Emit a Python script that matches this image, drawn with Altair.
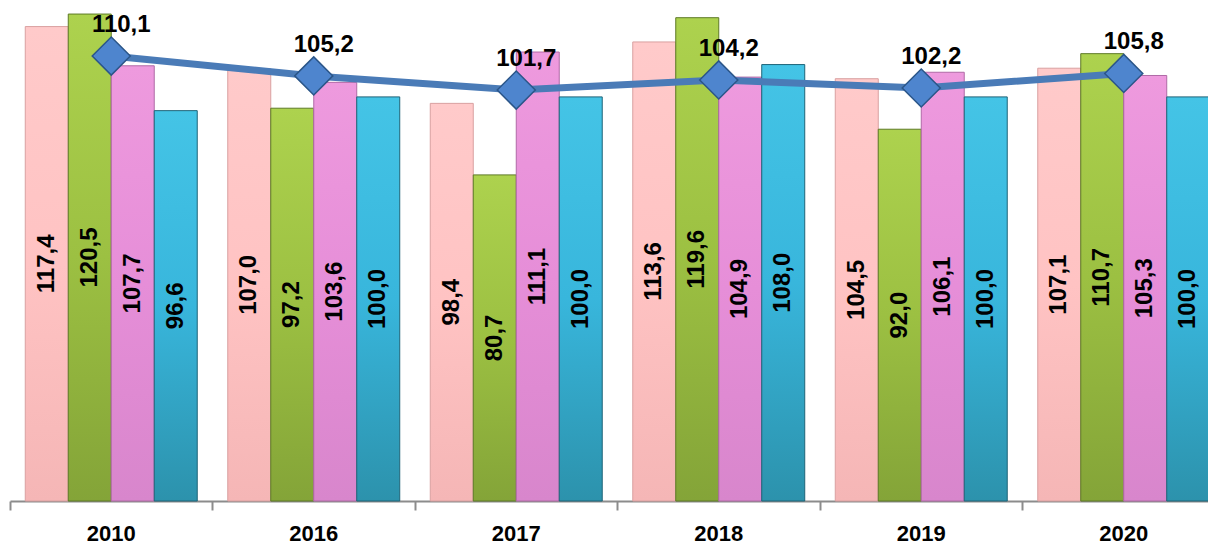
import altair as alt
import pandas as pd

# ---- data ----
YEARS = ["2010", "2016", "2017", "2018", "2019", "2020"]
SERIES = ["Ряд 1", "Ряд 2", "Ряд 3", "Ряд 4"]
S1 = [117.4, 107.0, 98.4, 113.6, 104.5, 107.1]
S2 = [120.5, 97.2, 80.7, 119.6, 92.0, 110.7]
S3 = [107.7, 103.6, 111.1, 104.9, 106.1, 105.3]
S4 = [96.6, 100.0, 100.0, 108.0, 100.0, 100.0]
LINE = [110.1, 105.2, 101.7, 104.2, 102.2, 105.8]

FONT = "Liberation Sans, Arial, sans-serif"


def fmt(v):
    return f"{v:.1f}".replace(".", ",")


rows = []
for name, vals in zip(SERIES, [S1, S2, S3, S4]):
    for y, v in zip(YEARS, vals):
        rows.append({"year": y, "series": name, "value": v, "label": fmt(v)})
bars_df = pd.DataFrame(rows)
bars_df["mid"] = bars_df["value"] / 2

line_df = pd.DataFrame({"year": YEARS, "value": LINE, "label": [fmt(v) for v in LINE]})

# ---- styles ----
GRADS = {
    "Ряд 1": ["#FFCACA", "#FFC3C3", "#F5B6B6"],
    "Ряд 2": ["#ADD24E", "#9CC042", "#84A438"],
    "Ряд 3": ["#EE9ADE", "#E68ED8", "#D886CC"],
    "Ряд 4": ["#44C4E6", "#38B6DC", "#2C92AC"],
}
STROKES = {"Ряд 1": "#D9A0A0", "Ряд 2": "#5E7A26", "Ряд 3": "#B06AA6", "Ряд 4": "#1E6478"}

x_scale = alt.Scale(domain=YEARS, paddingInner=0, paddingOuter=0)
xo_scale = alt.Scale(domain=SERIES, paddingInner=0, paddingOuter=0.355)
y_scale = alt.Scale(domain=[0, 122], nice=False, zero=True)

X = alt.X("year:N", scale=x_scale,
          axis=alt.Axis(title=None, ticks=True, tickSize=9, tickWidth=2, tickColor="#8C8C8C",
                        bandPosition=0,
                        labelAngle=0, labelFontSize=22,
                        labelFontWeight="bold", labelFont=FONT, labelColor="#000000",
                        labelPadding=13, domainColor="#8C8C8C", domainWidth=2))
XO = alt.XOffset("series:N", scale=xo_scale)

layers = []
for name in SERIES:
    c = GRADS[name]
    grad = alt.Gradient(gradient="linear", x1=0, x2=0, y1=0, y2=1,
                        stops=[alt.GradientStop(color=c[0], offset=0),
                               alt.GradientStop(color=c[1], offset=0.5),
                               alt.GradientStop(color=c[2], offset=1)])
    layers.append(
        alt.Chart(bars_df).transform_filter(alt.datum.series == name)
        .mark_bar(color=grad, stroke=STROKES[name], strokeWidth=1)
        .encode(x=X, xOffset=XO,
                y=alt.Y("value:Q", scale=y_scale, axis=None))
    )

bar_text = alt.Chart(bars_df).mark_text(
    angle=270, fontSize=24, fontWeight="bold", font=FONT, color="#000000",
    align="center", baseline="middle"
).encode(x=X, xOffset=XO, y=alt.Y("mid:Q", scale=y_scale, axis=None), text="label:N")

line = alt.Chart(line_df).mark_line(color="#4A7BB7", strokeWidth=7).encode(
    x=X, y=alt.Y("value:Q", scale=y_scale, axis=None))

points = alt.Chart(line_df).mark_point(
    shape="diamond", size=1450, filled=True, fill="#4E85CE", opacity=1,
    stroke="#2B5689", strokeWidth=1.5
).encode(x=X, y=alt.Y("value:Q", scale=y_scale, axis=None))

line_text = alt.Chart(line_df).mark_text(
    fontSize=24, fontWeight="bold", font=FONT, color="#000000",
    align="center", baseline="middle", dx=10, dy=-31
).encode(x=X, y=alt.Y("value:Q", scale=y_scale, axis=None), text="label:N")

chart = alt.layer(*layers, bar_text, line, points, line_text).properties(
    width=1215, height=493,
    autosize=alt.AutoSizeParams(type="none"),
    padding={"left": 2, "top": 0, "right": -17, "bottom": 45},
    background="#FFFFFF",
).configure_view(stroke=None)

chart.save("out.html", embed_options={"renderer": "svg", "actions": False})
